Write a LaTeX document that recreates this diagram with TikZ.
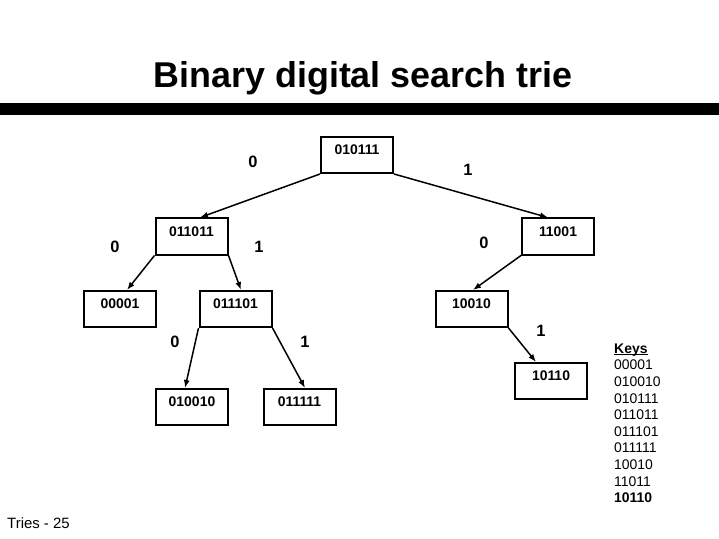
\documentclass[tikz,border=0pt]{standalone}
\usepackage{fontspec}
\setmainfont{Liberation Sans}
\usepackage{tikz}
\usetikzlibrary{arrows.meta}

\tikzset{
  keybox/.style={draw, line width=2bp, minimum width=72bp, minimum height=36bp,
    inner sep=0pt, text depth=10bp, font=\fontsize{14}{16}\selectfont\bfseries},
  bitlab/.style={font=\fontsize{16.5}{18}\selectfont\bfseries},
  link/.style={line width=1.5bp, -{Latex[length=8bp, width=6bp]}}
}

\begin{document}
\begin{tikzpicture}[x=1bp, y=-1bp]
\useasboundingbox (0,0) rectangle (719,539);
\node[anchor=base, font=\fontsize{36}{40}\selectfont\bfseries] (title) at (363,88)
  {Binary digital search trie};
\fill[black] (0,103) rectangle (719,115);

% trie nodes
\node[keybox] (n010111) at (357,155) {010111};
\node[keybox] (n011011) at (191.5,236.5) {011011};
\node[keybox] (n11001) at (558,236.5) {11001};
\node[keybox] (n00001) at (120,309) {00001};
\node[keybox] (n011101) at (235.5,309) {011101};
\node[keybox] (n10010) at (471.5,309) {10010};
\node[keybox] (n10110) at (551,381) {10110};
\node[keybox] (n010010) at (192,407) {010010};
\node[keybox] (n011111) at (299.5,407) {011111};

\draw[link] (n010111.south west) -- ([xshift=8.5bp]n011011.north);
\draw[link] (n010111.south east) -- ([xshift=-10bp]n11001.north);
\draw[link] (n011011.south west) -- ([xshift=7bp]n00001.north);
\draw[link] (n011011.south east) -- ([xshift=5.5bp]n011101.north);
\draw[link] (n11001.south west) -- ([xshift=1.5bp]n10010.north);
\draw[link] (n011101.south west) -- ([xshift=-7bp]n010010.north);
\draw[link] (n011101.south east) -- ([xshift=5.5bp]n011111.north);
\draw[link] (n10010.south east) -- ([xshift=-15bp]n10110.north);

% branch bits
\foreach \x/\y/\b [count=\i] in {253/162/0, 468/170/1, 115/247/0, 259/247/1,
    484/243/0, 175/342/0, 305/342/1, 541/331/1}
  \node[bitlab] (bit\i) at (\x,\y) {\b};

\node[anchor=north west, align=left, inner sep=0pt,
  font=\fontsize{14}{16.67}\selectfont] (keys) at (614,353)
  {\underline{\smash{\bfseries Keys}}\\00001\\010010\\010111\\011011\\011101\\011111\\10010\\11011\\\textbf{10110}};

\node[anchor=base west, inner sep=0pt, font=\fontsize{15}{18}\selectfont] (footer) at (7,528)
  {Tries - 25};
\end{tikzpicture}
\end{document}
